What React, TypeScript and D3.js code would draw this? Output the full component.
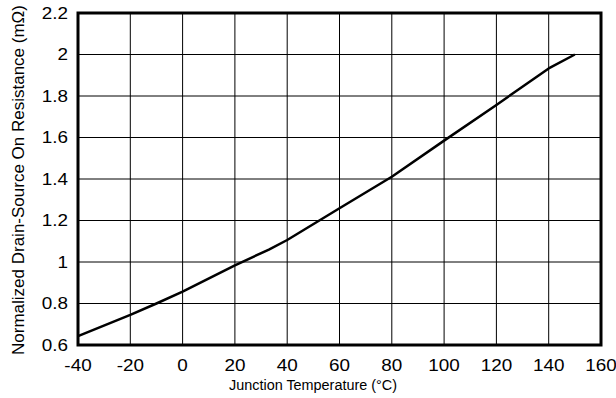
import React from "react";
import * as d3 from "d3";

const temps = [-40, -20, -10, 0, 20, 33, 40, 60, 80, 100, 120, 140, 150];
const resistance = [0.643, 0.745, 0.8, 0.857, 0.984, 1.06, 1.106, 1.259, 1.411, 1.585, 1.757, 1.933, 2.0];
const xTicks = [-40, -20, 0, 20, 40, 60, 80, 100, 120, 140, 160];
const yTicks = [0.6, 0.8, 1, 1.2, 1.4, 1.6, 1.8, 2, 2.2];
const xTitle = "Junction Temperature (°C)";
const yTitle = "Normalized Drain-Source On Resistance (mΩ)";

const W = 616;
const H = 398;
const left = 78;
const right = 601;
const top = 13;
const bottom = 345;

export default function App() {
  const x = d3.scaleLinear().domain([-40, 160]).range([left, right]);
  const y = d3.scaleLinear().domain([0.6, 2.2]).range([bottom, top]);
  const data = temps.map((t, i) => [t, resistance[i]] as [number, number]);
  const line = d3
    .line<[number, number]>()
    .x((d) => x(d[0]))
    .y((d) => y(d[1]));
  const font = "'Liberation Sans', Arial, sans-serif";
  const sx = 1.18;
  return (
    <svg
      width={W}
      height={H}
      style={{ position: "absolute", left: 0, top: 0, background: "#fff" }}
      fontFamily={font}
    >
      {xTicks.map((t) => (
        <line key={"gx" + t} x1={x(t)} x2={x(t)} y1={top} y2={bottom} stroke="#000" strokeWidth={1} />
      ))}
      {yTicks.map((t) => (
        <line key={"gy" + t} x1={left} x2={right} y1={y(t)} y2={y(t)} stroke="#000" strokeWidth={1} />
      ))}
      <rect x={left} y={top} width={right - left} height={bottom - top} fill="none" stroke="#000" strokeWidth={3} />
      <path d={line(data) || ""} fill="none" stroke="#000" strokeWidth={2.5} strokeLinejoin="round" />
      {xTicks.map((t) => (
        <text
          key={"tx" + t}
          transform={`translate(${x(t)}, 370.5) scale(${sx}, 1)`}
          textAnchor="middle"
          fontSize={16}
          fill="#000"
        >
          {t}
        </text>
      ))}
      {yTicks.map((t) => (
        <text
          key={"ty" + t}
          transform={`translate(68, ${y(t) + 5.8}) scale(${sx}, 1)`}
          textAnchor="end"
          fontSize={16}
          fill="#000"
        >
          {t}
        </text>
      ))}
      <text
        transform="translate(313, 389.5) scale(0.93, 1)"
        textAnchor="middle"
        fontSize={15.5}
        fill="#000"
      >
        {xTitle}
      </text>
      <text
        transform={`translate(24, 180) rotate(-90)`}
        textAnchor="middle"
        fontSize={17}
        fill="#000"
      >
        {yTitle}
      </text>
    </svg>
  );
}
